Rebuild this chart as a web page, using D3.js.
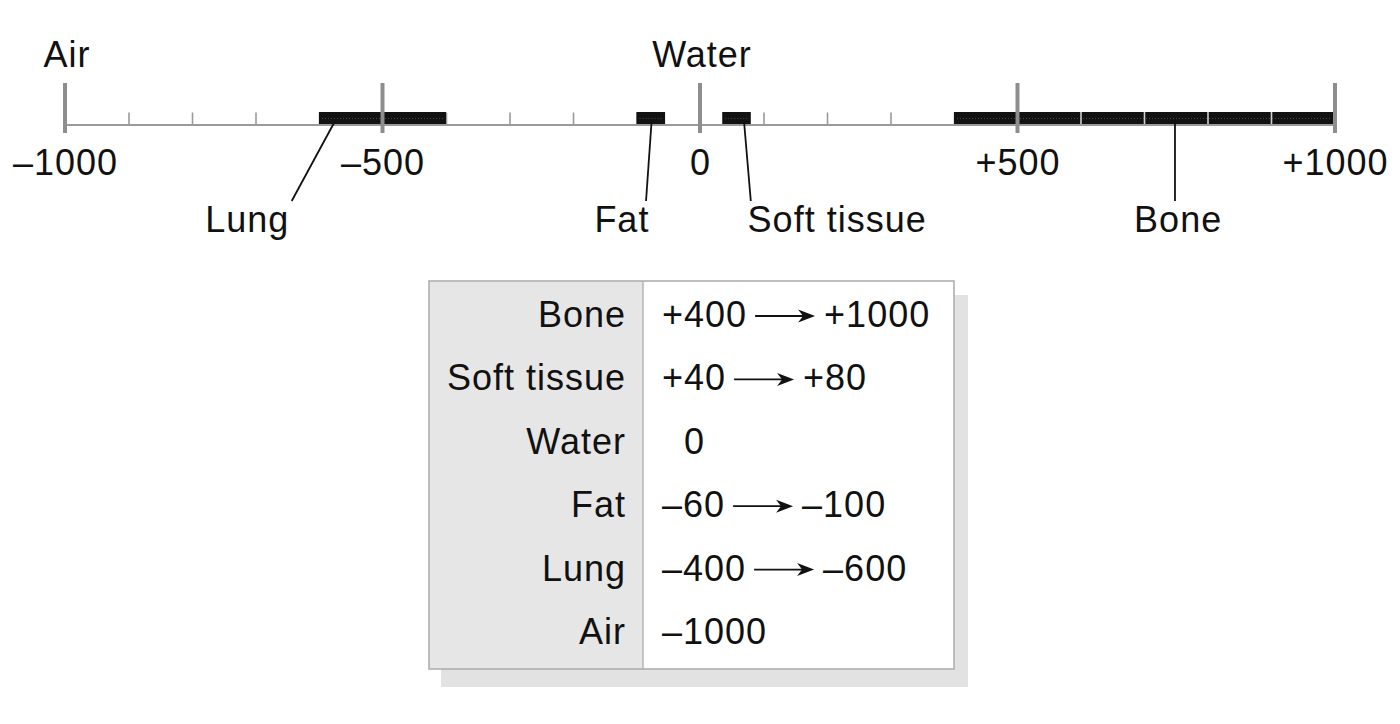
<!DOCTYPE html>
<html>
<head>
<meta charset="utf-8">
<script src="https://cdnjs.cloudflare.com/ajax/libs/d3/7.8.5/d3.min.js"></script>
<style>
  body { margin: 0; background: #fff; }
  svg text { font-family: "Liberation Sans", Arial, Helvetica, sans-serif; font-size: 36px; letter-spacing: 1px; fill: #111; }
</style>
</head>
<body>
<div id="chart"></div>
<script>
// Hounsfield scale values
var majorTicks = [-1000, -500, 0, 500, 1000];
var minorTicks = [-900, -800, -700, -600, -400, -300, -200, -100, 100, 200, 300, 400, 600, 700, 800, 900];

var topNames = ["Air", "Water"];
var topValues = [-1000, 0];

var barNames = ["Lung", "Fat", "Soft tissue", "Bone"];
var barStart = [-600, -100, 35, 400];
var barEnd = [-400, -55, 80, 1000];

var tableNames = ["Bone", "Soft tissue", "Water", "Fat", "Lung", "Air"];
var tableFrom = [400, 40, 0, -60, -400, -1000];
var tableTo = [1000, 80, null, -100, -600, null];

// where the callout lines meet the bar, bend to, and where the label sits (in HU)
var calloutLayout = {
    top: [-573, -76, 69, 748],
    bottom: [-643, -85, 80, 748],
    label: [-713, -123, 216, 753]
};

function fmt(v) {
    if (v > 0) return "+" + v;
    if (v < 0) return "\u2013" + Math.abs(v);
    return "0";
}

var width = 1400, height = 724;
var axisY = 124.5;

var svg = d3.select("#chart").append("svg")
    .attr("width", width)
    .attr("height", height);

var x = d3.scaleLinear().domain([-1000, 1000]).range([65, 1335]);

// axis line + minor ticks
var minorAxis = d3.axisTop(x)
    .tickValues(minorTicks)
    .tickSize(12)
    .tickSizeOuter(0)
    .tickFormat("");

var gMinor = svg.append("g")
    .attr("transform", "translate(0," + axisY + ")")
    .call(minorAxis);
gMinor.select(".domain").attr("stroke", "#9a9a9a").attr("stroke-width", 2);
gMinor.selectAll(".tick line").attr("stroke", "#9a9a9a").attr("stroke-width", 1.6);

// bars
var bars = svg.append("g");
bars.selectAll("rect")
    .data(barNames)
    .enter().append("rect")
    .attr("x", function(d, i) { return x(barStart[i]); })
    .attr("width", function(d, i) { return x(barEnd[i]) - x(barStart[i]); })
    .attr("y", axisY - 12.5)
    .attr("height", 12)
    .attr("fill", "#121212");

// faint dotted texture inside the bars
bars.selectAll("line.tex")
    .data(barNames)
    .enter().append("line")
    .attr("class", "tex")
    .attr("x1", function(d, i) { return x(barStart[i]) + 3; })
    .attr("x2", function(d, i) { return x(barEnd[i]) - 3; })
    .attr("y1", axisY - 6)
    .attr("y2", axisY - 6)
    .attr("stroke", "#4a4a4a")
    .attr("stroke-width", 1)
    .attr("stroke-dasharray", "1,2");

// minor ticks showing through inside the bars
bars.selectAll("line.sep")
    .data(minorTicks.filter(function(t) {
        return barNames.some(function(n, i) { return t > barStart[i] && t < barEnd[i]; });
    }))
    .enter().append("line")
    .attr("class", "sep")
    .attr("x1", function(d) { return x(d); })
    .attr("x2", function(d) { return x(d); })
    .attr("y1", axisY - 12.5)
    .attr("y2", axisY - 0.5)
    .attr("stroke", "#d0d0d0")
    .attr("stroke-width", 1.6);

// major ticks
svg.append("g").selectAll("line")
    .data(majorTicks)
    .enter().append("line")
    .attr("x1", function(d) { return x(d); })
    .attr("x2", function(d) { return x(d); })
    .attr("y1", 83)
    .attr("y2", 133)
    .attr("stroke", "#8e8e8e")
    .attr("stroke-width", 4);

// tick labels
var labelAxis = d3.axisBottom(x)
    .tickValues(majorTicks)
    .tickSize(0)
    .tickPadding(25)
    .tickFormat(fmt);
var gLab = svg.append("g")
    .attr("transform", "translate(0," + axisY + ")")
    .call(labelAxis);
gLab.select(".domain").remove();

// top labels
svg.append("g").selectAll("text")
    .data(topNames)
    .enter().append("text")
    .attr("x", function(d, i) { return x(topValues[i]) + 2; })
    .attr("y", 67)
    .attr("text-anchor", "middle")
    .text(function(d) { return d; });

// callouts
var callouts = svg.append("g");
callouts.selectAll("line")
    .data(barNames)
    .enter().append("line")
    .attr("x1", function(d, i) { return x(calloutLayout.top[i]); })
    .attr("y1", 119)
    .attr("x2", function(d, i) { return x(calloutLayout.bottom[i]); })
    .attr("y2", 201)
    .attr("stroke", "#111")
    .attr("stroke-width", 1.8);
callouts.selectAll("text")
    .data(barNames)
    .enter().append("text")
    .attr("x", function(d, i) { return x(calloutLayout.label[i]); })
    .attr("y", 232)
    .attr("text-anchor", "middle")
    .text(function(d) { return d; });

// table
var box = { x0: 429, x1: 954, y0: 281, y1: 669, split: 643 };
var table = svg.append("g");

table.append("rect")
    .attr("x", box.x0 + 12).attr("y", box.y0 + 14)
    .attr("width", box.x1 - box.x0 + 2).attr("height", box.y1 - box.y0 + 4)
    .attr("fill", "#e2e2e2");
table.append("rect")
    .attr("x", box.x0).attr("y", box.y0)
    .attr("width", box.x1 - box.x0).attr("height", box.y1 - box.y0)
    .attr("fill", "#fff");
table.append("rect")
    .attr("x", box.x0).attr("y", box.y0)
    .attr("width", box.split - box.x0).attr("height", box.y1 - box.y0)
    .attr("fill", "#e6e6e6");
table.append("rect")
    .attr("x", box.x0).attr("y", box.y0)
    .attr("width", box.x1 - box.x0).attr("height", box.y1 - box.y0)
    .attr("fill", "none")
    .attr("stroke", "#b0b0b0")
    .attr("stroke-width", 1.6);
table.append("line")
    .attr("x1", box.split).attr("x2", box.split)
    .attr("y1", box.y0).attr("y2", box.y1)
    .attr("stroke", "#b0b0b0")
    .attr("stroke-width", 1.4);

var row = d3.scalePoint().domain(tableNames).range([314, 631]);

var rows = table.selectAll("g.row")
    .data(tableNames)
    .enter().append("g")
    .attr("class", "row")
    .attr("transform", function(d) { return "translate(0," + (row(d) + 13) + ")"; });

rows.append("text")
    .attr("x", 626)
    .attr("text-anchor", "end")
    .text(function(d) { return d; });

rows.each(function(d, i) {
    var g = d3.select(this);
    var startX = tableFrom[i] === 0 && tableTo[i] === null ? 684 : 662;
    var t1 = g.append("text").attr("x", startX).text(fmt(tableFrom[i]));
    if (tableTo[i] === null) return;
    var end = startX + t1.node().getComputedTextLength();
    var a0 = end + 8, a1 = a0 + 60, ay = -11;
    g.append("line")
        .attr("x1", a0).attr("x2", a1 - 12)
        .attr("y1", ay).attr("y2", ay)
        .attr("stroke", "#111")
        .attr("stroke-width", 1.8);
    g.append("path")
        .attr("d", "M" + a1 + "," + ay + "L" + (a1 - 17) + "," + (ay - 6.5) +
                   "L" + (a1 - 12) + "," + ay + "L" + (a1 - 17) + "," + (ay + 6.5) + "Z")
        .attr("fill", "#111");
    g.append("text").attr("x", a1 + 9).text(fmt(tableTo[i]));
});
</script>
</body>
</html>
